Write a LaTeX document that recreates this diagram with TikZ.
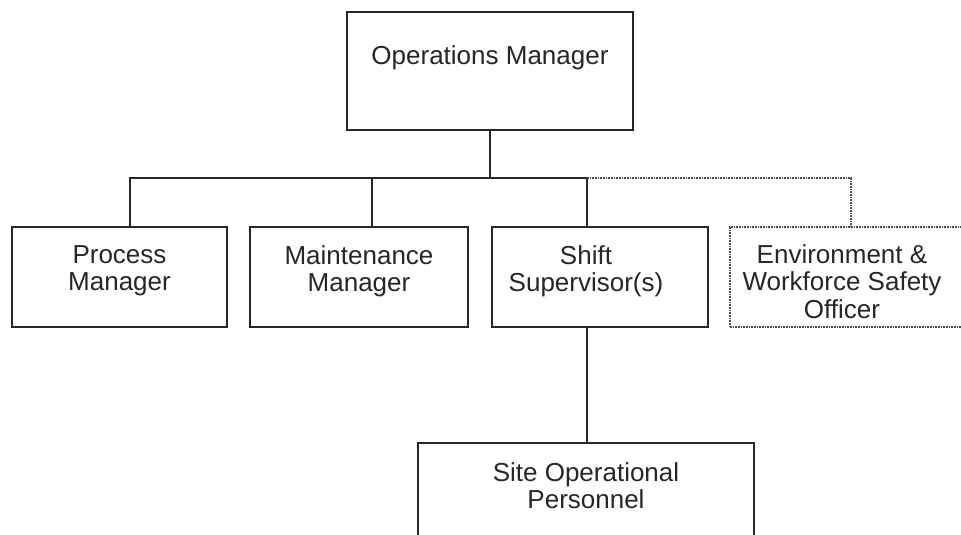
\documentclass[tikz,border=0pt]{standalone}
\usepackage{fontspec}
\setmainfont{Liberation Sans}
\begin{document}
\begin{tikzpicture}[x=0.75pt,y=-0.75pt,
  box/.style={draw=black!85,line width=1.9pt,rectangle,inner sep=0pt},
  dbox/.style={draw=black!70,line width=1.2pt,dash pattern=on 1.2pt off 0.8pt,rectangle,inner sep=0pt},
  lbl/.style={anchor=north,align=center,inner sep=0pt,font=\fontsize{19.5pt}{20.8pt}\selectfont,text=black!85},
  link/.style={draw=black!85,line width=1.9pt},
  dlink/.style={draw=black!70,line width=1.2pt,dash pattern=on 1.2pt off 0.8pt}]
\useasboundingbox (0,0) rectangle (961,535);
\begin{scope}
\clip (0,0) rectangle (961,535);
% boxes
\node[box,minimum width=286*0.75pt,minimum height=118*0.75pt] (om) at (490,71) {};
\node[box,minimum width=215*0.75pt,minimum height=100*0.75pt] (pm) at (119.5,277) {};
\node[box,minimum width=218*0.75pt,minimum height=100*0.75pt] (mm) at (359,277) {};
\node[box,minimum width=216*0.75pt,minimum height=100*0.75pt] (ss) at (600,277) {};
\node[dbox,minimum width=242*0.75pt,minimum height=100*0.75pt] (ev) at (851,277) {};
\node[box,minimum width=336*0.75pt,minimum height=130*0.75pt] (sp) at (586,508) {};
% labels
\node[lbl] (tom) at (490,45) {Operations Manager};
\node[lbl] (tpm) at (119.5,245) {Process\\Manager};
\node[lbl] (tmm) at (359,245) {Maintenance\\Manager};
\node[lbl] (tss) at (586,245) {Shift\\Supervisor(s)};
\node[lbl] (tev) at (842,244) {Environment \&\\Workforce Safety\\Officer};
\node[lbl] (tsp) at (586,462) {Site Operational\\Personnel};
% connectors
\coordinate (j) at (490,178);
\coordinate (sj) at (587,178);
\draw[link] (om.south) -- (j);
\draw[link] (pm.north -| 130,0) -- (130,178) -- (sj);
\draw[link] (mm.north -| 372,0) -- (372,178);
\draw[link] (sj) -- (sj |- ss.north);
\draw[dlink] (sj) -| (ev.north);
\draw[link] (sj |- ss.south) -- (sj |- sp.north);
\end{scope}
\end{tikzpicture}
\end{document}
